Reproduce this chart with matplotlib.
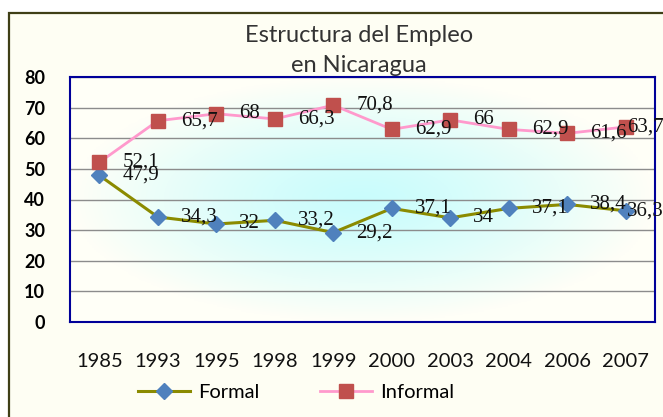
import numpy as np
import matplotlib.pyplot as plt
from matplotlib.patches import Rectangle

# data
years = ['1985', '1993', '1995', '1998', '1999', '2000', '2003', '2004', '2006', '2007']
formal = [47.9, 34.3, 32, 33.2, 29.2, 37.1, 34, 37.1, 38.4, 36.3]
informal = [52.1, 65.7, 68, 66.3, 70.8, 62.9, 66, 62.9, 61.6, 63.7]

fig = plt.figure(figsize=(6.63, 4.17), dpi=100)
fig.patch.set_facecolor('white')

# outer chart frame (cream, dark olive border)
frame = Rectangle((9 / 663, -0.2), 1.2, (417 - 13) / 417 + 0.2, transform=fig.transFigure,
                  facecolor='#fefef3', edgecolor='#3f3f16', lw=1.6, zorder=-1)
fig.patches.append(frame)

ax = fig.add_axes([70 / 663, 95 / 417, 585 / 663, 245 / 417])
ax.set_zorder(1)
x = np.arange(len(years))

# radial gradient background of the plot area
gx, gy = np.meshgrid(np.linspace(-1, 1, 300), np.linspace(-1, 1, 200))
r = np.clip(np.sqrt(gx ** 2 + gy ** 2), 0, 1)[..., None]
center = np.array([0.79, 0.99, 0.99])
edge = np.array([1.0, 1.0, 0.97])
ax.imshow(center + (edge - center) * r ** 1.3, extent=[-0.5, 9.5, 0, 80], aspect='auto',
          zorder=0)

ax.plot(x, formal, color='#8b8b00', lw=2.2, marker='D', ms=8, mfc='#4f81bd', mec='#4f81bd',
        label='Formal', zorder=3)
ax.plot(x, informal, color='#ff99cc', lw=2, marker='s', ms=10, mfc='#c0504d', mec='#c0504d',
        label='Informal', zorder=3)

# data labels to the right of each point
for series in (formal, informal):
    for i, v in enumerate(series):
        dx = 1 if i == len(series) - 1 else 23
        ax.annotate(('%g' % v).replace('.', ','), (i, v), xytext=(dx, 0),
                    textcoords='offset pixels', ha='left', va='center',
                    fontfamily='Liberation Serif', fontsize=15, color='#111111',
                    annotation_clip=False, zorder=4)

ax.set_xlim(-0.5, 9.5)
ax.set_ylim(0, 80)
ax.set_yticks(range(0, 81, 10))
ax.set_xticks(x)
ax.set_xticklabels(years)
ax.yaxis.grid(True, color='#8c8c8c', lw=1)
ax.tick_params(length=0)
ax.tick_params(axis='y', pad=18)
ax.tick_params(axis='x', pad=22)
for lab in ax.get_yticklabels():
    lab.set_fontfamily('Lato')
    lab.set_fontweight('bold')
    lab.set_fontsize(13)
for lab in ax.get_xticklabels():
    lab.set_fontfamily('Lato')
    lab.set_fontsize(14.5)
    lab.set_color('#111111')
for s in ax.spines.values():
    s.set_color('#000099')
    s.set_linewidth(1.5)

fig.text(359 / 663, 1 - 35 / 417, 'Estructura del Empleo', ha='center', va='center',
         fontfamily='Lato', fontsize=17, color='#333333')
fig.text(359 / 663, 1 - 65 / 417, 'en Nicaragua', ha='center', va='center',
         fontfamily='Lato', fontsize=17, color='#333333')

fig.legend(loc='center', bbox_to_anchor=(296 / 663, 25 / 417), ncol=2, frameon=False,
           prop={'family': 'Lato', 'size': 14.5}, handlelength=2.6, handletextpad=0.4,
           columnspacing=3.0)

fig.savefig('out.png', dpi=100)
